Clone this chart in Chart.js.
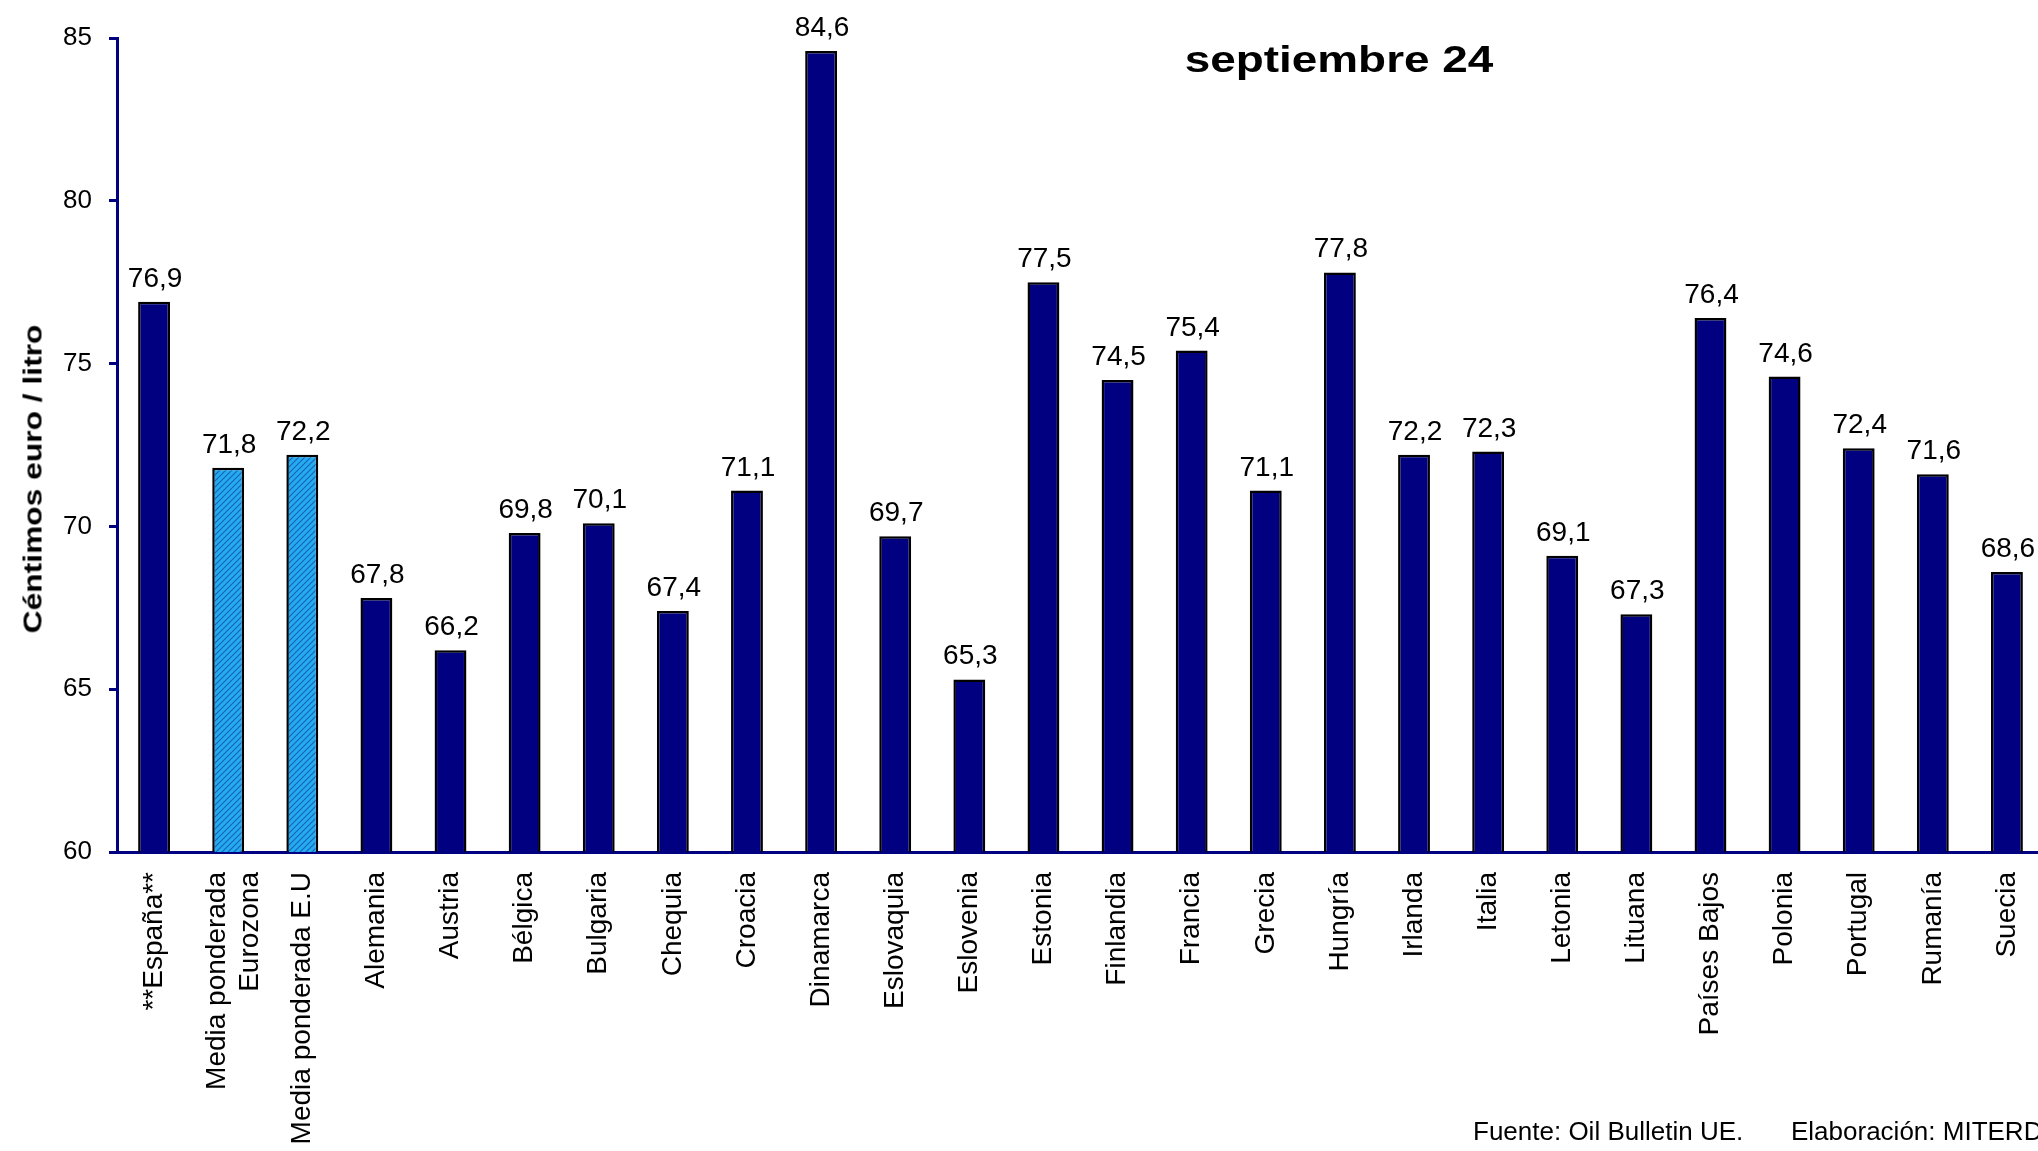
<!DOCTYPE html>
<html lang="es">
<head>
<meta charset="utf-8">
<title>septiembre 24</title>
<script src="https://cdn.jsdelivr.net/npm/chart.js@4.4.1/dist/chart.umd.min.js"></script>
<style>
  html, body { margin: 0; padding: 0; overflow: hidden; background: #fff; }
  #wrap { position: relative; width: 2044px; height: 1151px; }
  .txt { position: absolute; font-family: 'Liberation Sans', Arial, sans-serif; color: #000; white-space: nowrap; }
  #title { left: 1339px; top: 60px; font-size: 37px; font-weight: bold; transform: translate(-50%, -50%) scaleX(1.24); }
  #ytitle { left: 33px; top: 479px; font-size: 25px; font-weight: bold; transform: translate(-50%, -50%) rotate(-90deg) scaleX(1.27); }
  .foot { top: 1116px; font-size: 26px; line-height: 30px; }
</style>
</head>
<body>
<div id="wrap">
  <canvas id="chart"></canvas>
  <div id="title" class="txt">septiembre 24</div>
  <div id="ytitle" class="txt">Céntimos euro / litro</div>
  <div class="txt foot" style="left:1473px">Fuente: Oil Bulletin UE.</div>
  <div class="txt foot" style="left:1791px">Elaboración: MITERD</div>
</div>
<script>
const categories = [
  '**España**', ['Media ponderada', 'Eurozona'], 'Media ponderada E.U', 'Alemania', 'Austria',
  'Bélgica', 'Bulgaria', 'Chequia', 'Croacia', 'Dinamarca', 'Eslovaquia', 'Eslovenia',
  'Estonia', 'Finlandia', 'Francia', 'Grecia', 'Hungría', 'Irlanda', 'Italia', 'Letonia',
  'Lituana', 'Países Bajos', 'Polonia', 'Portugal', 'Rumanía', 'Suecia',
];
const prices = [
  76.9, 71.8, 72.2, 67.8, 66.2, 69.8, 70.1, 67.4, 71.1, 84.6, 69.7, 65.3,
  77.5, 74.5, 75.4, 71.1, 77.8, 72.2, 72.3, 69.1, 67.3, 76.4, 74.6, 72.4, 71.6, 68.6,
];
const yTicks = [60, 65, 70, 75, 80, 85];

const FONT = "'Liberation Sans', Arial, sans-serif";
const NAVY = '#000080';

function makeHatch() {
  const c = document.createElement('canvas');
  c.width = 6;
  c.height = 6;
  const g = c.getContext('2d');
  g.fillStyle = '#25abf2';
  g.fillRect(0, 0, 6, 6);
  g.strokeStyle = '#1763b5';
  g.lineWidth = 1.1;
  g.beginPath();
  g.moveTo(0, 6); g.lineTo(6, 0);
  g.moveTo(-3, 3); g.lineTo(3, -3);
  g.moveTo(3, 9); g.lineTo(9, 3);
  g.stroke();
  return g.createPattern(c, 'repeat');
}
const hatch = makeHatch();

const isAverage = (i) => Array.isArray(categories[i]) || String(categories[i]).startsWith('Media');

const valueLabels = {
  id: 'valueLabels',
  afterDatasetsDraw(chart) {
    const { ctx } = chart;
    const meta = chart.getDatasetMeta(0);
    ctx.save();
    ctx.font = `28px ${FONT}`;
    ctx.fillStyle = '#000';
    ctx.textAlign = 'center';
    ctx.textBaseline = 'alphabetic';
    meta.data.forEach((bar, i) => {
      ctx.fillText(prices[i].toFixed(1).replace('.', ','), bar.x + 1, bar.y - 15);
    });
    ctx.restore();
  },
};

// centre two-line tick labels on their bar
const centerMultiline = {
  id: 'centerMultiline',
  beforeDraw(chart) {
    const items = chart.scales.x.getLabelItems();
    items.forEach((it, i) => {
      if (Array.isArray(categories[i]) && !it.shifted) {
        it.options.translation[0] -= 11;
        it.shifted = true;
      }
    });
  },
};

new Chart(document.getElementById('chart'), {
  type: 'bar',
  data: {
    labels: categories,
    datasets: [{
      data: prices,
      backgroundColor: (c) => (isAverage(c.dataIndex) ? hatch : NAVY),
      borderColor: '#000',
      borderWidth: 2.5,
      barPercentage: 0.43,
      categoryPercentage: 1,
    }],
  },
  options: {
    responsive: true,
    maintainAspectRatio: false,
    animation: false,
    layout: { padding: { top: 38, left: 0, right: 0, bottom: 0 } },
    plugins: {
      legend: { display: false },
      tooltip: { enabled: false },
    },
    scales: {
      x: {
        grid: { display: false },
        border: { display: true, color: NAVY, width: 3 },
        ticks: {
          minRotation: 90,
          maxRotation: 90,
          autoSkip: false,
          padding: 12,
          color: '#000',
          font: { family: FONT, size: 28 },
        },
        afterFit(scale) {
          scale.height = 299;
          scale.paddingLeft = 0;
          scale.paddingRight = 0;
        },
      },
      y: {
        min: yTicks[0],
        max: yTicks[yTicks.length - 1],
        afterBuildTicks(scale) { scale.ticks = yTicks.map((v) => ({ value: v })); },
        grid: {
          drawOnChartArea: false,
          drawTicks: true,
          tickLength: 8,
          color: NAVY,
          lineWidth: 3,
        },
        border: { display: true, color: NAVY, width: 3 },
        ticks: {
          padding: 17,
          color: '#000',
          font: { family: FONT, size: 26 },
          callback: (v) => String(v),
        },
        afterFit(scale) { scale.width = 117; },
      },
    },
  },
  plugins: [valueLabels, centerMultiline],
});
</script>
</body>
</html>
